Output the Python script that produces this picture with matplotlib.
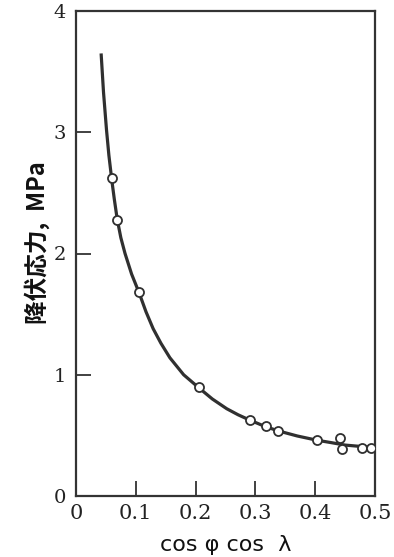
import matplotlib
matplotlib.use("Agg")
import matplotlib.pyplot as plt

# measured data points (cos(phi)cos(lambda), yield stress MPa)
pt_x = [0.060, 0.069, 0.106, 0.206, 0.291, 0.317, 0.337, 0.403, 0.441, 0.445, 0.478, 0.493]
pt_y = [2.62, 2.28, 1.68, 0.90, 0.63, 0.58, 0.54, 0.46, 0.48, 0.39, 0.40, 0.40]

# hand-drawn curve
curve_x = [0.042, 0.046, 0.051, 0.055, 0.060, 0.064, 0.069, 0.075, 0.082, 0.093, 0.106,
           0.117, 0.129, 0.142, 0.157, 0.180, 0.206, 0.228, 0.252, 0.271, 0.291, 0.313,
           0.336, 0.370, 0.403, 0.427, 0.450, 0.473, 0.495]
curve_y = [3.65, 3.33, 3.02, 2.81, 2.60, 2.45, 2.28, 2.13, 2.00, 1.83, 1.67,
           1.52, 1.38, 1.26, 1.14, 1.00, 0.89, 0.80, 0.72, 0.67, 0.625, 0.58,
           0.54, 0.495, 0.46, 0.44, 0.42, 0.41, 0.40]

xticks = [0, 0.1, 0.2, 0.3, 0.4, 0.5]
xticklabels = ["0", "0.1", "0.2", "0.3", "0.4", "0.5"]
yticks = [0, 1, 2, 3, 4]
yticklabels = ["0", "1", "2", "3", "4"]

fig = plt.figure(figsize=(3.94, 5.57), dpi=100)
ax = fig.add_axes([76/394, 1-496/557, (375-76)/394, (496-11)/557])

ax.plot(curve_x, curve_y, color="#303030", lw=2.3, solid_capstyle="butt",
        solid_joinstyle="round", zorder=2)
ax.plot(pt_x, pt_y, linestyle="none", marker="o", ms=6.5, mfc="white",
        mec="#303030", mew=1.3, zorder=3)

ax.set_xlim(0, 0.5)
ax.set_ylim(0, 4)
ax.set_xticks(xticks)
ax.set_xticklabels(xticklabels, family="DejaVu Serif", fontsize=15, color="#222222")
ax.set_yticks(yticks)
ax.set_yticklabels(yticklabels, family="DejaVu Serif", fontsize=14, color="#222222")
ax.tick_params(direction="in", length=11, width=1.3, color="#333333")
ax.tick_params(axis="x", pad=6)
ax.tick_params(axis="y", pad=7)
for s in ax.spines.values():
    s.set_linewidth(1.6)
    s.set_color("#333333")

fig.text(226/394, 1-545/557, "cos φ cos  λ", ha="center", va="center",
         fontsize=16, family=["DejaVu Sans"], color="#111111")
fig.text(37/394, 1-243/557, "降伏応力,  MPa", rotation=90, ha="center", va="center",
         fontsize=17, weight="bold", family=["Noto Sans CJK JP", "DejaVu Sans"],
         color="#111111")

fig.savefig("out.png", dpi=100)
